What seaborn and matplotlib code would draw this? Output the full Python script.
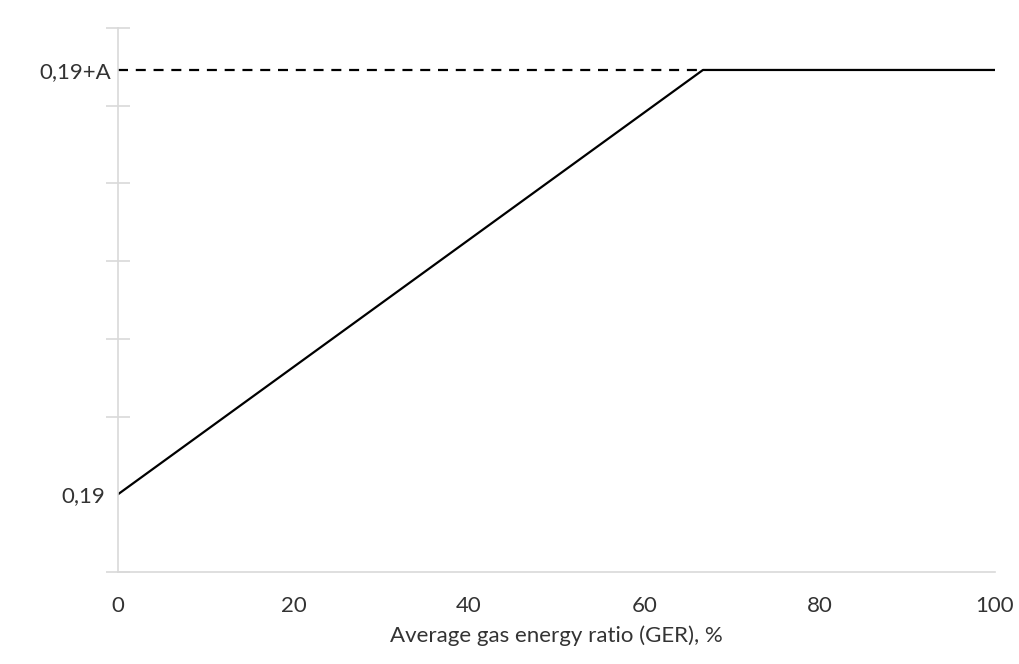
import matplotlib
matplotlib.use("Agg")
import matplotlib.pyplot as plt
import matplotlib.transforms as mtransforms
import seaborn as sns
import pandas as pd

# Curve breakpoints: GER (%) and required level (axis units, base level = 1)
ger = [0, 66.7, 100]
level = [1.0, 6.46, 6.46]
ytick_pos = [1.0, 6.46]
ytick_labels = ["0,19", "0,19+A"]
xticks = [0, 20, 40, 60, 80, 100]
ygrid_marks = [0, 1, 2, 3, 4, 5, 6, 7]

sns.set_theme(style="white")
plt.rcParams["font.family"] = ["Lato", "DejaVu Sans"]

fig = plt.figure(figsize=(10.2, 6.64), dpi=100)
ax = fig.add_axes([118 / 1020, 1 - 572 / 664, (995 - 118) / 1020, (572 - 28) / 664])

df = pd.DataFrame({"ger": ger, "level": level})
sns.lineplot(data=df, x="ger", y="level", ax=ax, color="black", linewidth=1.6)

# dashed reference from the axis to the plateau start
ax.plot([0, ger[1]], [level[1], level[1]], color="black", linewidth=1.6,
        linestyle=(0, (4.5, 3.5)))

ax.set_xlim(0, 100)
ax.set_ylim(0, 7)

ax.set_xticks(xticks)
ax.set_xticklabels([str(v) for v in xticks], fontsize=16, color="#333333")
ax.set_yticks(ytick_pos)
ax.set_yticklabels(ytick_labels, fontsize=16, color="#333333")
ax.set_yticks(ygrid_marks, minor=True)

ax.tick_params(axis="x", which="major", direction="inout", length=16, width=1.2,
               color="#d9d9d9", pad=9)
ax.tick_params(axis="y", which="major", length=0, pad=9)
ax.tick_params(axis="y", which="minor", direction="inout", length=17, width=1.2,
               color="#d9d9d9", left=True)

# the upper label sits closer to the axis (no tick mark beside it)
upper = ax.get_yticklabels()[1]
upper.set_transform(upper.get_transform() +
                    mtransforms.ScaledTranslation(6 / 100, 0, fig.dpi_scale_trans))

for side in ["top", "right"]:
    ax.spines[side].set_visible(False)
for side in ["left", "bottom"]:
    ax.spines[side].set_color("#d9d9d9")
    ax.spines[side].set_linewidth(1.2)

ax.set_xlabel("Average gas energy ratio (GER), %", fontsize=16, color="#333333", labelpad=7)
ax.set_ylabel("")

fig.savefig("out.png", dpi=100)
